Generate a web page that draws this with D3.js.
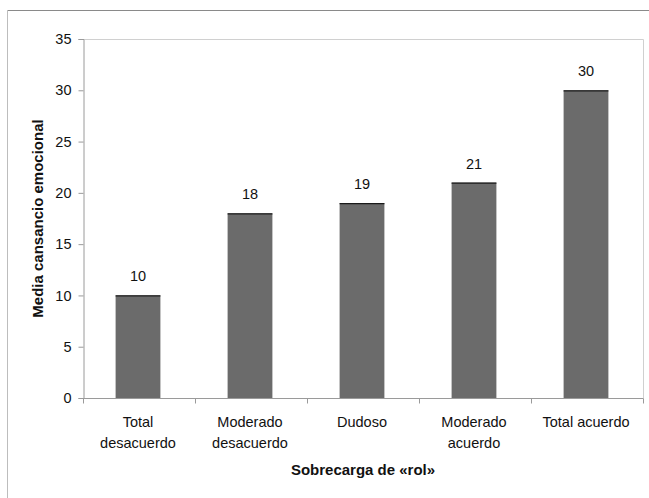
<!DOCTYPE html>
<html>
<head>
<meta charset="utf-8">
<script src="https://cdn.jsdelivr.net/npm/d3@7"></script>
<style>
  html, body { margin: 0; padding: 0; background: #fff; }
  svg { display: block; font-family: "Liberation Sans", Arial, sans-serif; }
</style>
</head>
<body>
<svg id="chart" width="649" height="498"></svg>
<script>
// Mean emotional exhaustion by level of role overload
const categories = [["Total", "desacuerdo"], ["Moderado", "desacuerdo"], ["Dudoso"], ["Moderado", "acuerdo"], ["Total acuerdo"]];
const values = [10, 18, 19, 21, 30];
const yTicks = [0, 5, 10, 15, 20, 25, 30, 35];

const svg = d3.select("#chart");
const W = 649, H = 498;
const plot = { left: 83, right: 643, top: 39, bottom: 398 };
const labelSize = 14.5, titleSize = 15;

// outer frame
svg.append("line").attr("x1", 7.5).attr("x2", W).attr("y1", 10.5).attr("y2", 10.5)
  .attr("stroke", "#8a8a8a").attr("stroke-width", 1.2);
svg.append("line").attr("x1", 7.5).attr("x2", 7.5).attr("y1", 10.5).attr("y2", H)
  .attr("stroke", "#bdbdbd").attr("stroke-width", 1);

const keys = categories.map((c, i) => i);
const x = d3.scaleBand().domain(keys).range([plot.left, plot.right]).paddingInner(0).paddingOuter(0);
const y = d3.scaleLinear().domain([0, 35]).range([plot.bottom, plot.top]);

// plot area border (top/right)
svg.append("path")
  .attr("d", `M${plot.left},${plot.top + 0.5}H${plot.right + 0.5}V${plot.bottom}`)
  .attr("fill", "none").attr("stroke", "#d0d0d0");

// bars
const barW = x.bandwidth() * 0.4;
const bars = svg.append("g");
values.forEach((v, i) => {
  const cx = x(i) + x.bandwidth() / 2 - 1;
  bars.append("rect")
    .attr("x", cx - barW / 2).attr("y", y(v))
    .attr("width", barW).attr("height", y(0) - y(v))
    .attr("fill", "#6b6b6b");
  bars.append("line")
    .attr("x1", cx - barW / 2).attr("x2", cx + barW / 2)
    .attr("y1", y(v) + 0.5).attr("y2", y(v) + 0.5)
    .attr("stroke", "#1a1a1a").attr("stroke-width", 1.2);
  bars.append("text")
    .attr("x", cx).attr("y", y(v) - 14)
    .attr("text-anchor", "middle").attr("font-size", labelSize).attr("fill", "#111")
    .text(v);
});

// y axis
const yAxis = svg.append("g").attr("transform", `translate(${plot.left + 0.5},0)`)
  .call(d3.axisLeft(y).tickValues(yTicks).tickSize(5).tickPadding(7));
yAxis.select(".domain").attr("stroke", "#9a9a9a");
yAxis.selectAll(".tick line").attr("stroke", "#9a9a9a");
yAxis.selectAll(".tick text").attr("font-size", labelSize).attr("fill", "#111")
  .attr("font-family", "Liberation Sans, Arial, sans-serif");

// x axis: ticks at category boundaries
const xAxisG = svg.append("g").attr("transform", `translate(0,${plot.bottom + 0.5})`);
xAxisG.append("line").attr("x1", plot.left).attr("x2", plot.right + 0.5)
  .attr("y1", 0).attr("y2", 0).attr("stroke", "#9a9a9a");
const bounds = keys.map(k => x(k)).concat([plot.right]);
xAxisG.selectAll(".btick").data(bounds).join("line")
  .attr("x1", d => Math.round(d) + 0.5).attr("x2", d => Math.round(d) + 0.5)
  .attr("y1", 0).attr("y2", 5).attr("stroke", "#9a9a9a");

// category labels
categories.forEach((lines, i) => {
  const cx = x(i) + x.bandwidth() / 2 - 1;
  const t = svg.append("text").attr("text-anchor", "middle")
    .attr("font-size", labelSize).attr("fill", "#111");
  lines.forEach((ln, j) => {
    t.append("tspan").attr("x", cx).attr("y", 427 + j * 20.5).text(ln);
  });
});

// axis titles
svg.append("text")
  .attr("x", 363).attr("y", 475).attr("text-anchor", "middle")
  .attr("font-size", titleSize).attr("font-weight", "bold").attr("fill", "#111")
  .text("Sobrecarga de «rol»");
svg.append("text")
  .attr("transform", `translate(43,${(plot.top + plot.bottom) / 2}) rotate(-90)`)
  .attr("text-anchor", "middle")
  .attr("font-size", titleSize).attr("font-weight", "bold").attr("fill", "#111")
  .text("Media cansancio emocional");
</script>
</body>
</html>
